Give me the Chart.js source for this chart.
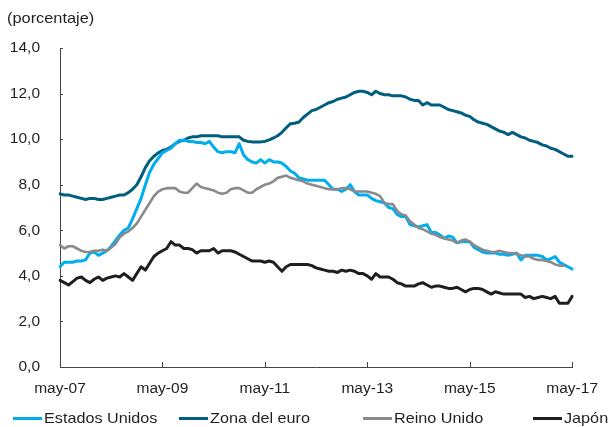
<!DOCTYPE html>
<html lang="es">
<head>
<meta charset="utf-8">
<title>Tasa de desempleo</title>
<script src="https://cdn.jsdelivr.net/npm/chart.js@4.4.0/dist/chart.umd.min.js"></script>
<style>
  body { margin: 0; background: #fff; }
  #lienzo { position: relative; width: 610px; height: 427px; font-family: "Liberation Sans", Arial, sans-serif; color: #231f20; }
  #grafico { position: absolute; left: 0; top: 0; }
  #titulo { position: absolute; left: 7px; top: 10px; font-size: 15px; line-height: 16px; transform: scaleX(1.09); transform-origin: left center; white-space: nowrap; }
  .leyenda-linea { position: absolute; top: 417px; width: 29px; height: 3px; }
  .leyenda-texto { position: absolute; top: 410px; font-size: 15px; line-height: 16px; white-space: nowrap; transform: scaleX(1.08); transform-origin: left center; }
</style>
</head>
<body>
<div id="lienzo">
  <canvas id="grafico" width="610" height="427"></canvas>
  <div id="titulo">(porcentaje)</div>
  <div id="leyenda"></div>
</div>
<script>
// meses en castellano, serie mensual de may-07 a may-17
const meses = ['ene', 'feb', 'mar', 'abr', 'may', 'jun', 'jul', 'ago', 'sep', 'oct', 'nov', 'dic'];
const anioInicio = 2007;
const mesInicio = 4; // mayo
const numMeses = 121;

// Tasa de desempleo (%)
const estadosUnidos = [
  4.4, 4.6, 4.6, 4.6, 4.65, 4.65, 4.7, 5.0,
  5.05, 4.9, 5.0, 5.1, 5.3, 5.55, 5.8, 6.0, 6.1, 6.5, 6.95, 7.4,
  8.0, 8.55, 8.9, 9.15, 9.4, 9.5, 9.6, 9.8, 9.95, 9.95, 9.9, 9.9,
  9.85, 9.85, 9.8, 9.9, 9.65, 9.45, 9.4, 9.45, 9.45, 9.4, 9.8, 9.3,
  9.1, 9.0, 8.95, 9.1, 8.95, 9.1, 9.0, 9.0, 8.95, 8.8, 8.6, 8.5,
  8.3, 8.25, 8.2, 8.2, 8.2, 8.2, 8.2, 8.0, 7.8, 7.8, 7.7, 7.8,
  8.0, 7.7, 7.55, 7.55, 7.55, 7.4, 7.3, 7.25, 7.2, 7.0, 6.95, 6.7,
  6.6, 6.6, 6.25, 6.2, 6.15, 6.2, 6.25, 5.9, 5.9, 5.8, 5.65, 5.75,
  5.7, 5.45, 5.5, 5.5, 5.5, 5.25, 5.15, 5.05, 5.0, 5.0, 5.0, 4.95,
  4.95, 4.9, 4.95, 5.0, 4.7, 4.9, 4.9, 4.9, 4.9, 4.85, 4.7, 4.75,
  4.85, 4.6, 4.5, 4.4, 4.3
];

const zonaEuro = [
  7.6, 7.55, 7.55, 7.5, 7.45, 7.4, 7.35, 7.4,
  7.4, 7.35, 7.35, 7.4, 7.45, 7.5, 7.55, 7.55, 7.65, 7.8, 8.0, 8.35,
  8.75, 9.05, 9.25, 9.4, 9.5, 9.55, 9.65, 9.8, 9.9, 9.95, 10.05, 10.1,
  10.1, 10.15, 10.15, 10.15, 10.15, 10.15, 10.1, 10.1, 10.1, 10.1, 10.1, 9.95,
  9.9, 9.88, 9.88, 9.88, 9.9, 9.97, 10.05, 10.15, 10.3, 10.5, 10.68, 10.7,
  10.75, 10.95, 11.1, 11.25, 11.3, 11.4, 11.5, 11.6, 11.65, 11.75, 11.8, 11.85,
  11.95, 12.05, 12.1, 12.1, 12.05, 11.95, 12.1, 12.0, 11.95, 11.95, 11.9, 11.9,
  11.9, 11.85, 11.75, 11.7, 11.7, 11.5, 11.6, 11.5, 11.5, 11.5, 11.4, 11.3,
  11.25, 11.2, 11.15, 11.05, 11.0, 10.85, 10.75, 10.7, 10.65, 10.55, 10.45, 10.35,
  10.3, 10.2, 10.3, 10.2, 10.1, 10.05, 9.95, 9.9, 9.85, 9.75, 9.7, 9.6,
  9.55, 9.45, 9.35, 9.25, 9.25
];

const reinoUnido = [
  5.35, 5.2, 5.3, 5.3, 5.2, 5.1, 5.05, 5.05,
  5.1, 5.1, 5.15, 5.1, 5.25, 5.4, 5.7, 5.85, 5.95, 6.1, 6.3, 6.6,
  6.9, 7.2, 7.5, 7.7, 7.8, 7.85, 7.85, 7.85, 7.7, 7.65, 7.65, 7.85,
  8.05, 7.9, 7.85, 7.8, 7.75, 7.65, 7.6, 7.65, 7.8, 7.85, 7.85, 7.75,
  7.65, 7.65, 7.8, 7.9, 8.0, 8.05, 8.15, 8.3, 8.35, 8.4, 8.3, 8.25,
  8.2, 8.15, 8.05, 8.0, 7.95, 7.9, 7.85, 7.8, 7.8, 7.8, 7.85, 7.85,
  7.8, 7.7, 7.7, 7.7, 7.7, 7.65, 7.6, 7.5, 7.2, 7.15, 7.15, 6.85,
  6.7, 6.65, 6.4, 6.25, 6.1, 6.05, 5.95, 5.85, 5.8, 5.7, 5.65, 5.6,
  5.55, 5.45, 5.55, 5.6, 5.5, 5.35, 5.25, 5.15, 5.1, 5.05, 5.05, 5.1,
  5.05, 5.0, 5.0, 4.95, 4.9, 4.85, 4.85, 4.75, 4.7, 4.7, 4.65, 4.6,
  4.5, 4.45, 4.45, null, null
];

const japon = [
  3.8, 3.7, 3.6, 3.75, 3.9, 3.95, 3.8, 3.7,
  3.85, 3.95, 3.8, 3.9, 3.95, 4.0, 3.95, 4.1, 3.95, 3.8, 4.1, 4.4,
  4.25, 4.55, 4.85, 5.0, 5.1, 5.2, 5.5, 5.35, 5.35, 5.2, 5.2, 5.15,
  5.0, 5.1, 5.1, 5.1, 5.2, 5.0, 5.1, 5.1, 5.1, 5.05, 4.95, 4.85,
  4.75, 4.65, 4.65, 4.65, 4.6, 4.65, 4.6, 4.4, 4.2, 4.4, 4.5, 4.5,
  4.5, 4.5, 4.5, 4.45, 4.35, 4.3, 4.25, 4.2, 4.2, 4.15, 4.25, 4.2,
  4.25, 4.2, 4.1, 4.1, 4.0, 3.85, 4.1, 3.95, 3.95, 3.95, 3.85, 3.7,
  3.65, 3.55, 3.55, 3.55, 3.65, 3.7, 3.6, 3.5, 3.55, 3.55, 3.5, 3.45,
  3.45, 3.5, 3.4, 3.3, 3.4, 3.45, 3.45, 3.4, 3.3, 3.2, 3.3, 3.25,
  3.2, 3.2, 3.2, 3.2, 3.2, 3.05, 3.1, 3.0, 3.05, 3.1, 3.05, 3.0,
  3.1, 2.8, 2.8, 2.8, 3.1
];

// etiquetas del eje x: una cada 24 meses
const pasoEtiquetas = 24;

// construir las categorías mensuales (may-07, jun-07, ...)
const etiquetas = [];
for (let i = 0; i < numMeses; i++) {
  const m = (mesInicio + i) % 12;
  const a = anioInicio + Math.floor((mesInicio + i) / 12);
  etiquetas.push(meses[m] + '-' + String(a).slice(2));
}

const series = [
  { nombre: 'Estados Unidos', datos: estadosUnidos, color: '#00aeef', ancho: 3, orden: 1, x: 13 },
  { nombre: 'Zona del euro', datos: zonaEuro, color: '#005e7f', ancho: 3, orden: 2, x: 179 },
  { nombre: 'Reino Unido', datos: reinoUnido, color: '#898a8c', ancho: 2.6, orden: 0, x: 363 },
  { nombre: 'Japón', datos: japon, color: '#221e1f', ancho: 3, orden: 3, x: 533 }
];

const colorEje = '#444444';
const fuente = { family: '"Liberation Sans", Arial, sans-serif', size: 15.5 };

// marcas de los ejes hacia dentro del área del gráfico
const marcasInternas = {
  id: 'marcasInternas',
  afterDraw(chart) {
    const ctx = chart.ctx;
    const area = chart.chartArea;
    const ejeX = chart.scales.x;
    const ejeY = chart.scales.y;
    ctx.save();
    ctx.strokeStyle = colorEje;
    ctx.lineWidth = 1;
    ctx.beginPath();
    ejeX.ticks.forEach(function(t) {
      const px = Math.round(ejeX.getPixelForValue(t.value)) + 0.5;
      ctx.moveTo(px, area.bottom);
      ctx.lineTo(px, area.bottom - 5);
    });
    ejeY.ticks.forEach(function(t) {
      const py = Math.round(ejeY.getPixelForValue(t.value)) + 0.5;
      ctx.moveTo(area.left, py);
      ctx.lineTo(area.left + 3, py);
    });
    ctx.stroke();
    ctx.restore();
  }
};

const ctx = document.getElementById('grafico').getContext('2d');
window.graficoDesempleo = new Chart(ctx, {
  type: 'line',
  data: {
    labels: etiquetas,
    datasets: series.map(function(s) {
      return {
        label: s.nombre,
        data: s.datos,
        borderColor: s.color,
        backgroundColor: s.color,
        borderWidth: s.ancho,
        pointRadius: 0,
        tension: 0,
        borderJoinStyle: 'round',
        borderCapStyle: 'round',
        order: s.orden
      };
    })
  },
  options: {
    responsive: false,
    animation: false,
    layout: { padding: { top: 48, right: 33, left: 0, bottom: 0 } },
    plugins: {
      legend: { display: false },
      tooltip: { enabled: false }
    },
    scales: {
      x: {
        offset: false,
        afterFit: function(scale) { scale.height = 60; },
        afterBuildTicks: function(scale) {
          scale.ticks = scale.ticks.filter(function(t) { return t.value % pasoEtiquetas === 0; });
        },
        grid: { display: true, drawOnChartArea: false, drawTicks: false },
        border: { display: true, color: colorEje, width: 1 },
        ticks: {
          autoSkip: false,
          maxRotation: 0,
          padding: 12,
          color: '#231f20',
          font: fuente,
          callback: function(value) { return etiquetas[value]; }
        }
      },
      y: {
        min: 0,
        max: 14,
        afterFit: function(scale) { scale.width = 60; },
        grid: { display: true, drawOnChartArea: false, drawTicks: false },
        border: { display: true, color: colorEje, width: 1 },
        ticks: {
          stepSize: 2,
          padding: 20,
          color: '#231f20',
          font: fuente,
          callback: function(v) { return v.toFixed(1).replace('.', ','); }
        }
      }
    }
  },
  plugins: [marcasInternas]
});

// leyenda propia, en una fila bajo el gráfico
const leyenda = document.getElementById('leyenda');
series.forEach(function(s) {
  const linea = document.createElement('div');
  linea.className = 'leyenda-linea';
  linea.style.left = s.x + 'px';
  linea.style.background = s.color;
  leyenda.appendChild(linea);
  const texto = document.createElement('div');
  texto.className = 'leyenda-texto';
  texto.style.left = (s.x + 31) + 'px';
  texto.textContent = s.nombre;
  leyenda.appendChild(texto);
});
</script>
</body>
</html>
